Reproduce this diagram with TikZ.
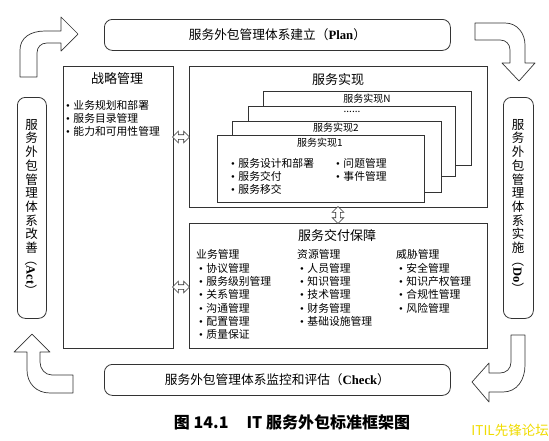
\documentclass[tikz,border=0pt]{standalone}
\usepackage{fontspec}
\setmainfont{Liberation Serif}
\newfontfamily\cjk{Noto Sans CJK SC}
\usetikzlibrary{positioning,shapes.arrows}
\definecolor{lineGray}{HTML}{333333}
\definecolor{markYellow}{HTML}{F0DC00}
\newcommand\en[1]{{\rmfamily\bfseries #1}}
\newcommand\itm{{\rmfamily\textbullet}\hspace{3.5pt}}

\begin{document}
\begin{tikzpicture}[
  x=1pt,y=-1pt,
  panel/.style={draw=lineGray,line width=.8pt,fill=white,anchor=north west,inner sep=0pt},
  phase/.style={panel,rounded corners=8pt,anchor=north west,
    font=\cjk\fontsize{12.7}{14}\selectfont},
  ttl/.style={font=\cjk\fontsize{13}{15}\selectfont,inner sep=0pt},
  sub/.style={font=\cjk\fontsize{10}{12}\selectfont,inner sep=0pt},
  vtext/.style={font=\cjk\fontsize{12.5}{13.7}\selectfont,align=center,inner sep=0pt},
  lst/.style={font=\cjk\fontsize{10.8}{13}\selectfont,align=left,inner sep=0pt,anchor=north west},
  dbl/.style={double arrow,draw=lineGray,line width=.6pt,fill=white,inner sep=2pt,
    minimum height=17pt,double arrow head extend=3.5pt},
  turnarrow/.style={draw=lineGray,line width=.7pt,fill=white,line join=round}
]
\fill[white] (0,0) rectangle (549,440);
\useasboundingbox (0,0) rectangle (549,440);

% PDCA phases
\node[phase,minimum width=346pt,minimum height=31pt] (plan) at (104,19)
  {服务外包管理体系建立（\en{Plan}）};
\node[phase,minimum width=346pt,minimum height=31pt] (check) at (104,364)
  {服务外包管理体系监控和评估（\en{Check}）};
\node[phase,minimum width=29pt,minimum height=221pt] (act) at (17,97) {};
\node[vtext,anchor=north] (actTxt) at (31.5,119)
  {服\\务\\外\\包\\管\\理\\体\\系\\改\\善};
\node[vtext,rotate=-90] (actEn) at (31.5,275) {（\en{Act}）};
\node[phase,minimum width=30pt,minimum height=221pt] (do) at (503,97) {};
\node[vtext,anchor=north] (doTxt) at (518,119)
  {服\\务\\外\\包\\管\\理\\体\\系\\实\\施};
\node[vtext,rotate=-90] (doEn) at (518,275) {（\en{Do}）};

% cycle arrows
\draw[turnarrow] (20,77) -- (20,50) .. controls (20,38) and (30,31) .. (45,31) -- (61,31)
  -- (61,17) -- (78,34) -- (61,51) -- (61,43) -- (47,43)
  .. controls (41,43) and (37,47) .. (37,53) -- (37,77) -- cycle;
\draw[turnarrow] (475,23) -- (505,23) .. controls (517,23) and (525,33) .. (525,45)
  -- (525,63) -- (535,63) -- (519,81) -- (502,63) -- (510,63) -- (510,50)
  .. controls (510,44) and (506,40) .. (500,40) -- (475,40) -- cycle;
\draw[turnarrow] (511,335) -- (525,335) -- (525,365) .. controls (525,380) and (517,392) .. (503,392)
  -- (489,392) -- (489,402) -- (472,382) -- (489,363) -- (489,373) -- (500,373)
  .. controls (506,373) and (511,369) .. (511,362) -- cycle;
\draw[turnarrow] (73,375) -- (73,393) -- (50,393) .. controls (36,393) and (27,383) .. (27,370)
  -- (27,352) -- (14,352) -- (32,334) -- (50,352) -- (40,352) -- (40,362)
  .. controls (40,369) and (45,375) .. (52,375) -- cycle;

% strategy
\node[panel,minimum width=110pt,minimum height=282pt] (strat) at (63,66) {};
\node[ttl] (stratTtl) at (117,79) {战略管理};
\node[lst] (stratLst) at (66,100.5)
  {\itm 业务规划和部署\\\itm 服务目录管理\\\itm 能力和可用性管理};

% realization
\node[panel,minimum width=298pt,minimum height=141pt] (real) at (189,66) {};
\node[ttl] (realTtl) at (338,80) {服务实现};
\node[panel,minimum width=208pt,minimum height=74pt] (realN) at (263,91) {};
\node[sub] (realNTxt) at (367,99) {服务实现N};
\node[panel,minimum width=207pt,minimum height=70pt] (realDots) at (248,106) {};
\node[sub] (realDotsTxt) at (352,112) {......};
\node[panel,minimum width=209pt,minimum height=71pt] (realTwo) at (232,121) {};
\node[sub] (realTwoTxt) at (336,128) {服务实现2};
\node[panel,minimum width=207pt,minimum height=67pt] (realOne) at (217,135) {};
\node[sub] (realOneTxt) at (320,143) {服务实现1};
\node[lst] (realLstA) at (231,158) {\itm 服务设计和部署\\\itm 服务交付\\\itm 服务移交};
\node[lst] (realLstB) at (336,158) {\itm 问题管理\\\itm 事件管理};

% delivery
\node[panel,minimum width=298pt,minimum height=125pt] (deliv) at (189,223) {};
\node[ttl] (delivTtl) at (337,236) {服务交付保障};
\node[lst,font=\cjk\fontsize{10.8}{13.33}\selectfont] (bizLst) at (196,249.5)
  {业务管理\\\hspace{3pt}\itm 协议管理\\\hspace{3pt}\itm 服务级别管理\\\hspace{3pt}\itm 关系管理
   \\\hspace{3pt}\itm 沟通管理\\\hspace{3pt}\itm 配置管理\\\hspace{3pt}\itm 质量保证};
\node[lst,font=\cjk\fontsize{10.8}{13.33}\selectfont] (resLst) at (297,249.5)
  {资源管理\\\hspace{3pt}\itm 人员管理\\\hspace{3pt}\itm 知识管理\\\hspace{3pt}\itm 技术管理
   \\\hspace{3pt}\itm 财务管理\\\hspace{3pt}\itm 基础设施管理};
\node[lst,font=\cjk\fontsize{10.8}{13.33}\selectfont] (riskLst) at (396,249.5)
  {威胁管理\\\hspace{3pt}\itm 安全管理\\\hspace{3pt}\itm 知识产权管理\\\hspace{3pt}\itm 合规性管理
   \\\hspace{3pt}\itm 风险管理};

% links
\node[dbl] (stratReal) at (181,137) {};
\node[dbl] (stratDeliv) at (181,287) {};
\node[dbl,rotate=90] (realDeliv) at (338,215) {};

% caption
\node[font=\cjk\bfseries\fontsize{16}{19}\selectfont] (cap) at (292,422)
  {图 14.1\hspace{18pt}IT 服务外包标准框架图};
\node[font=\cjk\fontsize{13.5}{15}\selectfont,text=markYellow,anchor=east,inner sep=0pt] (mark)
  at (549,430) {ITIL先锋论坛};
\end{tikzpicture}
\end{document}
